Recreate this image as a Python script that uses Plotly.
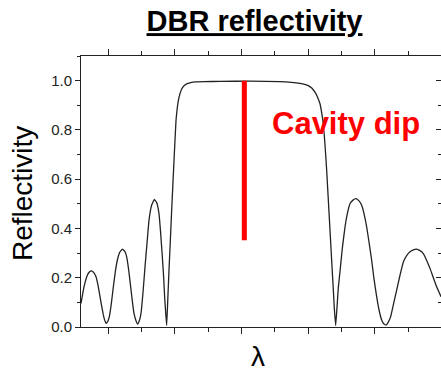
import plotly.graph_objects as go

# Wavelength (nm, arbitrary scale) and reflectivity
wavelength = [891.9, 892.8, 893.8, 894.4, 895.1, 895.8, 896.4, 897.0, 897.6, 898.1,
              898.6, 899.0, 899.4, 899.9, 900.4, 901.0, 901.6, 902.2, 902.8, 903.5,
              904.3, 905.0, 905.6, 906.2, 906.8, 907.3, 907.8, 908.4, 908.9, 909.4,
              909.9, 910.5, 911.1, 911.7, 912.3, 913.1, 913.9, 914.6, 915.3, 915.8,
              916.3, 916.7, 917.0, 917.3, 917.6, 917.9, 918.3, 918.7, 919.1, 919.5,
              919.9, 920.4, 920.7, 921.1, 921.6, 922.1, 922.8, 923.6, 924.8, 926.1,
              929.0, 933.6, 942.6, 951.6, 955.0, 957.6, 959.0, 960.1, 961.2, 962.1,
              962.9, 963.6, 964.1, 964.6, 965.1, 965.6, 966.1, 966.6, 967.1, 967.6,
              967.9, 968.3, 968.7, 969.1, 969.6, 970.3, 971.1, 971.8, 972.6, 973.5,
              974.4, 975.3, 976.1, 976.8, 977.6, 978.3, 979.1, 979.8, 980.6, 981.3,
              982.1, 982.7, 983.4, 984.1, 984.8, 985.6, 986.6, 987.6, 988.6, 989.6,
              990.6, 991.6, 992.6, 993.6, 994.6, 995.6, 996.6, 997.6, 998.6, 999.9]
reflectivity = [0.096, 0.163, 0.210, 0.223, 0.228, 0.220, 0.204, 0.170, 0.123, 0.085,
                0.049, 0.028, 0.015, 0.022, 0.042, 0.095, 0.163, 0.225, 0.271, 0.303,
                0.316, 0.308, 0.285, 0.232, 0.163, 0.105, 0.055, 0.025, 0.012, 0.025,
                0.055, 0.140, 0.244, 0.340, 0.433, 0.495, 0.518, 0.505, 0.460, 0.380,
                0.285, 0.200, 0.120, 0.060, 0.006, 0.100, 0.231, 0.350, 0.474, 0.590,
                0.703, 0.838, 0.880, 0.919, 0.947, 0.966, 0.979, 0.987, 0.992, 0.995,
                0.996, 0.997, 0.998, 0.996, 0.993, 0.989, 0.985, 0.980, 0.969, 0.953,
                0.932, 0.906, 0.870, 0.825, 0.740, 0.636, 0.515, 0.393, 0.270, 0.150,
                0.075, 0.006, 0.080, 0.160, 0.225, 0.320, 0.406, 0.460, 0.500, 0.515,
                0.521, 0.512, 0.494, 0.460, 0.406, 0.345, 0.271, 0.195, 0.123, 0.070,
                0.028, 0.013, 0.008, 0.020, 0.042, 0.090, 0.150, 0.210, 0.264, 0.290,
                0.305, 0.313, 0.316, 0.310, 0.298, 0.270, 0.238, 0.200, 0.163, 0.123]

cavity_x = [940.9, 940.9]
cavity_y = [0.352, 1.0]

y_ticks = [0.0, 0.2, 0.4, 0.6, 0.8, 1.0]
y_ticklabels = ["0.0", "0.2", "0.4", "0.6", "0.8", "1.0"]

font_family = "Liberation Sans, Arial, sans-serif"

fig = go.Figure()
fig.add_trace(go.Scatter(x=wavelength, y=reflectivity, mode="lines",
                         line=dict(color="#222222", width=1.3, shape="spline", smoothing=0.3),
                         showlegend=False, hoverinfo="skip"))
fig.add_trace(go.Scatter(x=cavity_x, y=cavity_y, mode="lines",
                         line=dict(color="#ff0000", width=5),
                         showlegend=False, hoverinfo="skip"))
# invisible trace for right axis
fig.add_trace(go.Scatter(x=[wavelength[0]], y=[0], yaxis="y2", mode="markers",
                         marker=dict(opacity=0), showlegend=False, hoverinfo="skip"))

fig.update_layout(
    width=441, height=374,
    margin=dict(l=81, r=0, t=56, b=47),
    paper_bgcolor="white", plot_bgcolor="white",
    font=dict(family=font_family, color="#222222"),
    title=dict(text="<b><u>DBR reflectivity</u></b>", x=254.5 / 441, xanchor="center",
               y=1 - 21 / 374, yanchor="middle", font=dict(size=29, color="black")),
    xaxis=dict(range=[891.9, 999.9], showgrid=False, zeroline=False,
               showline=True, linecolor="#222222", linewidth=1, mirror="ticks",
               ticks="outside", ticklen=6, tickcolor="#222222", tick0=900, dtick=20,
               showticklabels=False,
               minor=dict(ticks="outside", ticklen=4, dtick=10, tick0=900, tickcolor="#222222")),
    yaxis=dict(range=[0, 1.1], showgrid=False, zeroline=False,
               showline=True, linecolor="#222222", linewidth=1,
               ticks="outside", ticklen=5, tickcolor="#222222",
               tickvals=y_ticks, ticktext=y_ticklabels, tickfont=dict(size=15, color="#222222"),
               minor=dict(ticks="outside", ticklen=3, dtick=0.1, tick0=0, tickcolor="#222222")),
    yaxis2=dict(range=[0, 1.1], overlaying="y", side="right", showgrid=False, zeroline=False,
                showline=False, ticks="inside", ticklen=5, tickcolor="#222222",
                tickvals=y_ticks, showticklabels=False,
                minor=dict(ticks="inside", ticklen=3, dtick=0.1, tick0=0, tickcolor="#222222")),
)

fig.add_annotation(text="<b>Cavity dip</b>", x=971.5, y=0.826, xref="x", yref="y",
                   showarrow=False, xanchor="center", yanchor="middle",
                   font=dict(size=31, color="#ff0000", family=font_family))
fig.add_annotation(text="Reflectivity", x=(22 - 81) / 360, y=0.5 + (194 - 191.5) / -271,
                   xref="paper", yref="paper", showarrow=False, textangle=-90,
                   xanchor="center", yanchor="middle",
                   font=dict(size=28, color="black", family=font_family))
fig.add_annotation(text="λ", x=(258 - 81) / 360, y=-(356 - 327) / 271,
                   xref="paper", yref="paper", showarrow=False,
                   xanchor="center", yanchor="middle",
                   font=dict(size=28, color="black", family=font_family))

fig.write_html("out.html")
